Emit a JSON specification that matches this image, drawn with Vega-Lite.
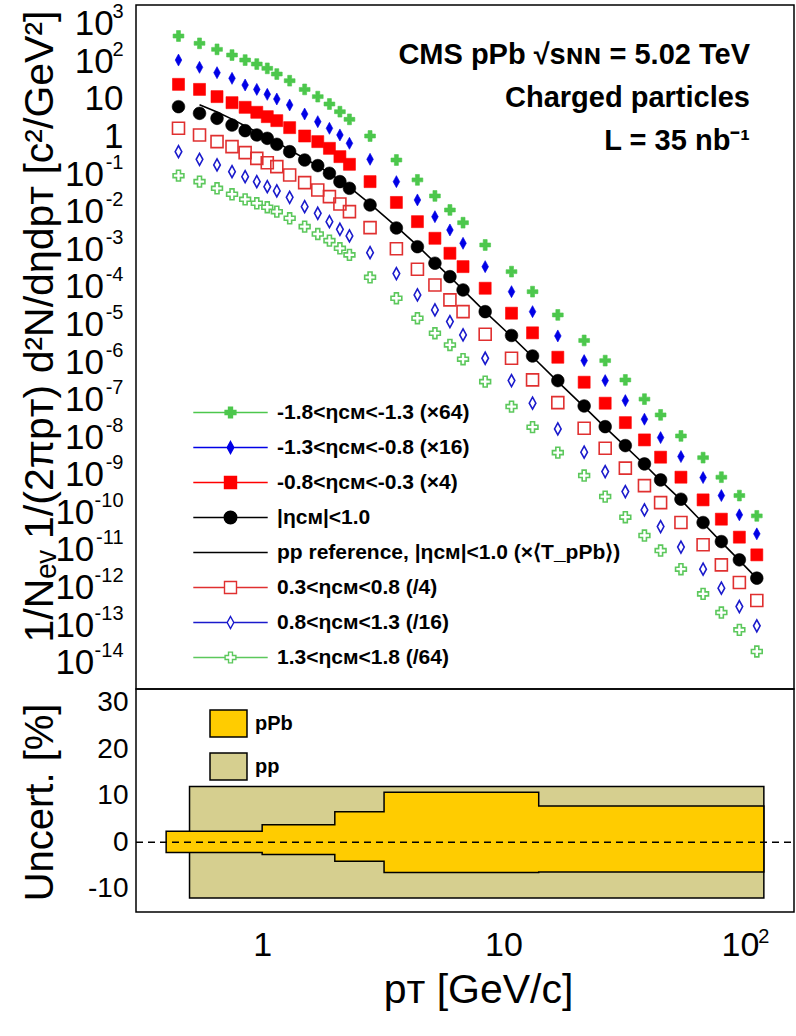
{
  "$schema": "https://vega.github.io/schema/vega-lite/v6.json",
  "padding": {"left": 18, "top": -12, "right": 0, "bottom": 0},
  "background": "white",
  "config": {
    "font": "Liberation Sans",
    "view": {"stroke": "black", "strokeWidth": 1.5},
    "axis": {"tickColor": "black", "tickWidth": 1.5, "domain": false, "grid": false, "labelColor": "black", "labelFont": "Liberation Sans", "titleFont": "Liberation Sans", "titleFontWeight": "normal", "titleColor": "black", "labelOverlap": false, "labelFlush": false, "labelBound": false, "tickSize": 0, "zindex": 1},
    "legend": {"symbolFillColor": "transparent", "symbolStrokeColor": "black", "symbolOpacity": 1, "padding": 0, "labelColor": "black", "labelFont": "Liberation Sans"}
  },
  "datasets": {
    "spec": [
      {"pt":0.45,"g1":471,"b1":108,"r1":24.4,"k":6.21,"r2":1.65,"b2":0.395,"g2":0.0908,"pp":null},
      {"pt":0.55,"g1":301,"b1":69.2,"r1":17.9,"k":4.13,"r2":1.10,"b2":0.247,"g2":0.0630,"pp":7.0},
      {"pt":0.65,"g1":208,"b1":49.9,"r1":11.5,"k":3.04,"r2":0.730,"b2":0.175,"g2":0.0418,"pp":4.5},
      {"pt":0.75,"g1":147,"b1":35.2,"r1":7.94,"k":2.02,"r2":0.537,"b2":0.116,"g2":0.0290,"pp":2.9},
      {"pt":0.85,"g1":108,"b1":23.4,"r1":5.97,"k":1.43,"r2":0.372,"b2":0.0855,"g2":0.0213,"pp":1.9},
      {"pt":0.95,"g1":84.7,"b1":17.9,"r1":4.40,"k":1.10,"r2":0.262,"b2":0.0630,"g2":0.0167,"pp":1.32},
      {"pt":1.05,"g1":65.0,"b1":13.2,"r1":3.37,"k":0.893,"r2":0.201,"b2":0.0463,"g2":0.0131,"pp":0.98},
      {"pt":1.15,"g1":45.9,"b1":9.93,"r1":2.64,"k":0.619,"r2":0.158,"b2":0.0356,"g2":0.0100,"pp":0.70},
      {"pt":1.3,"g1":30.5,"b1":6.89,"r1":1.72,"k":0.395,"r2":0.0946,"b2":0.0241,"g2":0.00667,"pp":0.44},
      {"pt":1.5,"g1":17.9,"b1":3.96,"r1":1.03,"k":0.237,"r2":0.0592,"b2":0.0136,"g2":0.00400,"pp":0.26},
      {"pt":1.7,"g1":11.5,"b1":2.48,"r1":0.730,"k":0.168,"r2":0.0378,"b2":0.00906,"g2":0.00255,"pp":0.165},
      {"pt":1.9,"g1":7.31,"b1":1.65,"r1":0.484,"k":0.105,"r2":0.0251,"b2":0.00543,"g2":0.00170,"pp":0.105},
      {"pt":2.1,"g1":4.57,"b1":1.10,"r1":0.291,"k":0.0630,"r2":0.0160,"b2":0.00340,"g2":0.00106,"pp":0.068},
      {"pt":2.3,"g1":2.86,"b1":0.658,"r1":0.182,"k":0.0418,"r2":0.0100,"b2":0.00226,"g2":0.00071,"pp":0.045},
      {"pt":2.8,"g1":1.03,"b1":0.247,"r1":0.0630,"k":0.0151,"r2":0.00376,"b2":0.000813,"g2":0.000179,"pp":0.0162},
      {"pt":3.6,"g1":0.237,"b1":0.0630,"r1":0.0176,"k":0.00369,"r2":0.00103,"b2":0.000225,"g2":0.0000497,"pp":0.0040},
      {"pt":4.4,"g1":0.0701,"b1":0.0205,"r1":0.00542,"k":0.00117,"r2":0.000294,"b2":0.0000610,"g2":0.0000146,"pp":0.00125},
      {"pt":5.2,"g1":0.0262,"b1":0.00736,"r1":0.00196,"k":0.000425,"r2":0.000112,"b2":0.0000243,"g2":0.00000583,"pp":0.00044},
      {"pt":6.0,"g1":0.0111,"b1":0.00326,"r1":0.000783,"k":0.000187,"r2":0.0000449,"b2":0.0000119,"g2":0.00000285,"pp":0.000185},
      {"pt":6.8,"g1":0.00509,"b1":0.00144,"r1":0.000345,"k":0.0000828,"r2":0.0000219,"b2":0.00000526,"g2":0.00000119,"pp":0.000083},
      {"pt":8.4,"g1":0.00130,"b1":0.000345,"r1":0.0000918,"k":0.0000219,"r2":0.00000548,"b2":0.00000126,"g2":3.01e-7,"pp":0.0000215},
      {"pt":10.8,"g1":2.54e-4,"b1":7.45e-5,"r1":1.99e-5,"k":5.09e-6,"r2":1.26e-6,"b2":3.20e-7,"g2":6.52e-8,"pp":4.8e-6},
      {"pt":13.2,"g1":7.45e-5,"b1":2.19e-5,"r1":5.98e-6,"k":1.45e-6,"r2":3.34e-7,"b2":8.02e-8,"g2":1.85e-8,"pp":1.38e-6},
      {"pt":16.8,"g1":1.79e-5,"b1":4.94e-6,"r1":1.34e-6,"k":3.20e-7,"r2":8.32e-8,"b2":1.66e-8,"g2":3.89e-9,"pp":3.0e-7},
      {"pt":21.6,"g1":3.75e-6,"b1":1.09e-6,"r1":2.90e-7,"k":6.79e-8,"r2":1.73e-8,"b2":3.99e-9,"g2":9.53e-10,"pp":6.4e-8},
      {"pt":26.4,"g1":1.09e-6,"b1":3.20e-7,"r1":8.02e-8,"k":1.91e-8,"r2":5.09e-9,"b2":1.22e-9,"g2":2.63e-10,"pp":1.82e-8},
      {"pt":32.0,"g1":3.34e-7,"b1":9.40e-8,"r1":2.44e-8,"k":5.98e-9,"r2":1.50e-9,"b2":3.57e-10,"g2":7.45e-11,"pp":5.7e-9},
      {"pt":38.4,"g1":1.03e-7,"b1":3.01e-8,"r1":8.47e-9,"k":1.95e-9,"r2":5.16e-10,"b2":1.16e-10,"g2":2.42e-11,"pp":1.88e-9},
      {"pt":44.8,"g1":3.92e-8,"b1":9.75e-9,"r1":2.94e-9,"k":7.31e-10,"r2":1.82e-10,"b2":4.19e-11,"g2":9.64e-12,"pp":7.0e-10},
      {"pt":54.4,"g1":1.08e-8,"b1":3.05e-9,"r1":8.63e-10,"k":2.24e-10,"r2":5.36e-11,"b2":1.19e-11,"g2":3.08e-12,"pp":2.15e-10},
      {"pt":67.2,"g1":2.86e-9,"b1":8.43e-10,"r1":2.15e-10,"k":5.36e-11,"r2":1.37e-11,"b2":3.08e-12,"g2":6.79e-13,"pp":5.2e-11},
      {"pt":80.0,"g1":8.63e-10,"b1":2.80e-10,"r1":6.59e-11,"k":1.67e-11,"r2":4.02e-12,"b2":9.65e-13,"g2":2.16e-13,"pp":1.62e-11},
      {"pt":95.0,"g1":2.80e-10,"b1":8.59e-11,"r1":2.19e-11,"k":5.46e-12,"r2":1.36e-12,"b2":3.13e-13,"g2":7.50e-14,"pp":5.3e-12},
      {"pt":112.2,"g1":8.07e-11,"b1":2.68e-11,"r1":7.41e-12,"k":1.78e-12,"r2":4.51e-13,"b2":9.57e-14,"g2":1.99e-14,"pp":1.75e-12}
    ],
    "unc": [
      {"type":"pPb","x":0.4,"lo":-2.2,"hi":2.4},
      {"type":"pPb","x":1,"lo":-2.6,"hi":3.8},
      {"type":"pPb","x":2,"lo":-4.1,"hi":6.6},
      {"type":"pPb","x":3.2,"lo":-6.5,"hi":10.8},
      {"type":"pPb","x":14,"lo":-6.4,"hi":7.8},
      {"type":"pPb","x":120,"lo":-6.4,"hi":7.8}
    ],
    "ppbox": [
      {"type":"pp","x0":0.5,"x1":120,"lo":-12,"hi":12}
    ]
  },
  "spacing": 0,
  "bounds": "flush",
  "resolve": {
    "scale": {"fill": "independent", "stroke": "independent", "shape": "independent", "x": "independent", "y": "independent"},
    "legend": {"fill": "independent", "stroke": "independent", "shape": "independent"}
  },
  "vconcat": [
    {
      "width": 658,
      "height": 684,
      "title": {"text": ["CMS pPb √sɴɴ = 5.02 TeV", "Charged particles", "L = 35 nb⁻¹"], "orient": "top", "anchor": "end", "frame": "group", "align": "right", "dx": -44, "offset": -190, "fontSize": 29, "fontWeight": "bold", "font": "Liberation Sans", "lineHeight": 43, "baseline": "alphabetic", "color": "black"},
      "data": {"name": "spec"},
      "layer": [
        {
          "mark": {"type": "line", "color": "black", "strokeWidth": 1.6},
          "encoding": {
            "x": {"field": "pt", "type": "quantitative", "scale": {"type": "log", "domain": [0.3, 160], "nice": false},
              "axis": {"orient": "bottom", "values": [0.3,0.4,0.5,0.6,0.7,0.8,0.9,1,2,3,4,5,6,7,8,9,10,20,30,40,50,60,70,80,90,100], "labels": false, "title": null,
                "encode": {"ticks": {"y2": {"value": {"expr": "abs(log(datum.value)/LN10 - round(log(datum.value)/LN10)) < 0.001 ? -17 : -9"}}}}}},
            "y": {"field": "pp", "type": "quantitative", "scale": {"type": "log", "domain": [2e-15, 3150], "nice": false},
              "axis": {"orient": "left",
                "values": [2e-15,3e-15,4e-15,5e-15,6e-15,7e-15,8e-15,9e-15,1e-14,2e-14,3e-14,4e-14,5e-14,6e-14,7e-14,8e-14,9e-14,1e-13,2e-13,3e-13,4e-13,5e-13,6e-13,7e-13,8e-13,9e-13,1e-12,2e-12,3e-12,4e-12,5e-12,6e-12,7e-12,8e-12,9e-12,1e-11,2e-11,3e-11,4e-11,5e-11,6e-11,7e-11,8e-11,9e-11,1e-10,2e-10,3e-10,4e-10,5e-10,6e-10,7e-10,8e-10,9e-10,1e-9,2e-9,3e-9,4e-9,5e-9,6e-9,7e-9,8e-9,9e-9,1e-8,2e-8,3e-8,4e-8,5e-8,6e-8,7e-8,8e-8,9e-8,1e-7,2e-7,3e-7,4e-7,5e-7,6e-7,7e-7,8e-7,9e-7,1e-6,2e-6,3e-6,4e-6,5e-6,6e-6,7e-6,8e-6,9e-6,1e-5,2e-5,3e-5,4e-5,5e-5,6e-5,7e-5,8e-5,9e-5,1e-4,2e-4,3e-4,4e-4,5e-4,6e-4,7e-4,8e-4,9e-4,0.001,0.002,0.003,0.004,0.005,0.006,0.007,0.008,0.009,0.01,0.02,0.03,0.04,0.05,0.06,0.07,0.08,0.09,0.1,0.2,0.3,0.4,0.5,0.6,0.7,0.8,0.9,1,2,3,4,5,6,7,8,9,10,20,30,40,50,60,70,80,90,100,200,300,400,500,600,700,800,900,1000,2000,3000],
                "labelExpr": "abs(log(datum.value)/LN10 - round(log(datum.value)/LN10)) < 0.001 ? (round(log(datum.value)/LN10) == 0 ? '1' : round(log(datum.value)/LN10) == 1 ? '10' : round(log(datum.value)/LN10) >= 2 ? '10\u00a0\u200b' : round(log(datum.value)/LN10) >= -9 ? '10\u00a0\u00a0\u200b' : '10\u00a0\u00a0\u00a0\u200b') : ''",
                "labelFontSize": 35, "labelPadding": 13,
                "encode": {"ticks": {"x2": {"value": {"expr": "abs(log(datum.value)/LN10 - round(log(datum.value)/LN10)) < 0.001 ? 22 : 11"}}}},
                "title": "1/Nₑᵥ  1/(2πpᴛ)  d²N/dηdpᴛ  [c²/GeV²]", "titleFontSize": 41, "titleX": -84, "titleY": 5, "titleAngle": 270, "titleAlign": "right", "titleBaseline": "alphabetic"}}
          }
        },
        {
          "transform": [{"fold": ["g1","b1","r1","k","r2","b2","g2"], "as": ["series","val"]}, {"filter": {"field": "series", "oneOf": ["g1","b1","r1","k"]}}],
          "mark": {"type": "point", "size": 144, "strokeWidth": 0.6, "opacity": 1},
          "encoding": {
            "x": {"field": "pt", "type": "quantitative", "scale": {"type": "log", "domain": [0.3, 160], "nice": false},
              "axis": {"orient": "top", "values": [0.3,0.4,0.5,0.6,0.7,0.8,0.9,1,2,3,4,5,6,7,8,9,10,20,30,40,50,60,70,80,90,100], "labels": false, "title": null,
                "encode": {"ticks": {"y2": {"value": {"expr": "abs(log(datum.value)/LN10 - round(log(datum.value)/LN10)) < 0.001 ? 17 : 9"}}}}}},
            "y": {"field": "val", "type": "quantitative", "scale": {"type": "log", "domain": [2e-15, 3150], "nice": false},
              "axis": {"orient": "right",
                "values": [2e-15,3e-15,4e-15,5e-15,6e-15,7e-15,8e-15,9e-15,1e-14,2e-14,3e-14,4e-14,5e-14,6e-14,7e-14,8e-14,9e-14,1e-13,2e-13,3e-13,4e-13,5e-13,6e-13,7e-13,8e-13,9e-13,1e-12,2e-12,3e-12,4e-12,5e-12,6e-12,7e-12,8e-12,9e-12,1e-11,2e-11,3e-11,4e-11,5e-11,6e-11,7e-11,8e-11,9e-11,1e-10,2e-10,3e-10,4e-10,5e-10,6e-10,7e-10,8e-10,9e-10,1e-9,2e-9,3e-9,4e-9,5e-9,6e-9,7e-9,8e-9,9e-9,1e-8,2e-8,3e-8,4e-8,5e-8,6e-8,7e-8,8e-8,9e-8,1e-7,2e-7,3e-7,4e-7,5e-7,6e-7,7e-7,8e-7,9e-7,1e-6,2e-6,3e-6,4e-6,5e-6,6e-6,7e-6,8e-6,9e-6,1e-5,2e-5,3e-5,4e-5,5e-5,6e-5,7e-5,8e-5,9e-5,1e-4,2e-4,3e-4,4e-4,5e-4,6e-4,7e-4,8e-4,9e-4,0.001,0.002,0.003,0.004,0.005,0.006,0.007,0.008,0.009,0.01,0.02,0.03,0.04,0.05,0.06,0.07,0.08,0.09,0.1,0.2,0.3,0.4,0.5,0.6,0.7,0.8,0.9,1,2,3,4,5,6,7,8,9,10,20,30,40,50,60,70,80,90,100,200,300,400,500,600,700,800,900,1000,2000,3000],
                "labels": false, "title": null,
                "encode": {"ticks": {"x2": {"value": {"expr": "abs(log(datum.value)/LN10 - round(log(datum.value)/LN10)) < 0.001 ? -22 : -11"}}}}}},
            "shape": {"field": "series", "type": "nominal", "legend": null,
              "scale": {"domain": ["g1","b1","r1","k","pp","r2","b2","g2"], "range": ["M-0.33,-0.9H0.33V-0.33H0.9V0.33H0.33V0.9H-0.33V0.33H-0.9V-0.33H-0.33Z", "M0,-1L0.55,0L0,1L-0.55,0Z", "M-1,-1H1V1H-1Z", "M1.05,0A1.05,1.05,0,1,1,-1.05,0A1.05,1.05,0,1,1,1.05,0Z", "M-6,0H6", "M-1,-1H1V1H-1Z", "M0,-1L0.55,0L0,1L-0.55,0Z", "M-0.33,-0.9H0.33V-0.33H0.9V0.33H0.33V0.9H-0.33V0.33H-0.9V-0.33H-0.33Z"]}},
            "fill": {"field": "series", "type": "nominal", "legend": null,
              "scale": {"domain": ["g1","b1","r1","k","pp","r2","b2","g2"], "range": ["#4CC74C","#0000E6","#FF0000","#000000","transparent","transparent","transparent","transparent"]}},
            "stroke": {"field": "series", "type": "nominal", "legend": null,
              "scale": {"domain": ["g1","b1","r1","k","pp","r2","b2","g2"], "range": ["#4CC74C","#0000E6","#FF0000","#000000","#000000","#E03030","#1A1ACC","#5CC85C"]}}
          }
        },
        {
          "transform": [{"fold": ["g1","b1","r1","k","r2","b2","g2"], "as": ["series","val"]}, {"filter": {"field": "series", "oneOf": ["r2","b2","g2"]}}],
          "mark": {"type": "point", "size": 144, "strokeWidth": 1.6, "opacity": 1},
          "encoding": {
            "x": {"field": "pt", "type": "quantitative", "scale": {"type": "log", "domain": [0.3, 160], "nice": false}, "axis": null},
            "y": {"field": "val", "type": "quantitative", "scale": {"type": "log", "domain": [2e-15, 3150], "nice": false},
              "axis": {"orient": "left", "values": [1e-14,1e-13,1e-12,1e-11,1e-10,1e-9,1e-8,1e-7,1e-6,1e-5,1e-4,0.001,0.01,0.1,1,10,100,1000], "ticks": false, "title": null,
                "labelExpr": "(round(log(datum.value)/LN10) == 0 || round(log(datum.value)/LN10) == 1) ? '' : '' + round(log(datum.value)/LN10)",
                "labelFontSize": 20, "labelPadding": 13, "labelOffset": -12}},
            "shape": {"field": "series", "type": "nominal", "legend": null,
              "scale": {"domain": ["g1","b1","r1","k","pp","r2","b2","g2"], "range": ["M-0.33,-0.9H0.33V-0.33H0.9V0.33H0.33V0.9H-0.33V0.33H-0.9V-0.33H-0.33Z", "M0,-1L0.55,0L0,1L-0.55,0Z", "M-1,-1H1V1H-1Z", "M1.05,0A1.05,1.05,0,1,1,-1.05,0A1.05,1.05,0,1,1,1.05,0Z", "M-6,0H6", "M-1,-1H1V1H-1Z", "M0,-1L0.55,0L0,1L-0.55,0Z", "M-0.33,-0.9H0.33V-0.33H0.9V0.33H0.33V0.9H-0.33V0.33H-0.9V-0.33H-0.33Z"]}},
            "fill": {"field": "series", "type": "nominal", "legend": null,
              "scale": {"domain": ["g1","b1","r1","k","pp","r2","b2","g2"], "range": ["#4CC74C","#0000E6","#FF0000","#000000","transparent","transparent","transparent","transparent"]}},
            "stroke": {"field": "series", "type": "nominal", "legend": null,
              "scale": {"domain": ["g1","b1","r1","k","pp","r2","b2","g2"], "range": ["#4CC74C","#0000E6","#FF0000","#000000","#000000","#E03030","#1A1ACC","#5CC85C"]}}
          }
        },
        {
          "transform": [{"fold": ["g1","b1","r1","k","r2","b2","g2"], "as": ["series","val"]}],
          "mark": {"type": "point", "size": 144, "strokeWidth": 1.4, "opacity": 0},
          "encoding": {
            "x": {"field": "pt", "type": "quantitative", "scale": {"type": "log", "domain": [0.3, 160], "nice": false}, "axis": null},
            "y": {"field": "val", "type": "quantitative", "scale": {"type": "log", "domain": [2e-15, 3150], "nice": false}, "axis": null},
            "shape": {"field": "series", "type": "nominal",
              "scale": {"domain": ["g1","b1","r1","k","pp","r2","b2","g2"], "range": ["M-6.2,0H-0.9M0.9,0H6.2M-0.33,-0.9H0.33V-0.33H0.9V0.33H0.33V0.9H-0.33V0.33H-0.9V-0.33H-0.33Z", "M-6.2,0H-0.55M0.55,0H6.2M0,-1L0.55,0L0,1L-0.55,0Z", "M-6.2,0H-1M1,0H6.2M-1,-1H1V1H-1Z", "M-6.2,0H-1.05M1.05,0H6.2M1.05,0A1.05,1.05,0,1,1,-1.05,0A1.05,1.05,0,1,1,1.05,0Z", "M-6.2,0H6.2", "M-6.2,0H-1M1,0H6.2M-1,-1H1V1H-1Z", "M-6.2,0H-0.55M0.55,0H6.2M0,-1L0.55,0L0,1L-0.55,0Z", "M-6.2,0H-0.9M0.9,0H6.2M-0.33,-0.9H0.33V-0.33H0.9V0.33H0.33V0.9H-0.33V0.33H-0.9V-0.33H-0.33Z"]},
              "legend": {"orient": "none", "legendX": 84, "legendY": 397, "title": null, "symbolSize": 144, "symbolStrokeWidth": 1.4, "symbolOpacity": 1,
                "labelFontSize": 21, "labelFontWeight": "bold", "labelLimit": 600, "labelOffset": 36, "rowPadding": 13,
                "labelExpr": "datum.value == 'g1' ? '-1.8<ηᴄᴍ<-1.3 (×64)' : datum.value == 'b1' ? '-1.3<ηᴄᴍ<-0.8 (×16)' : datum.value == 'r1' ? '-0.8<ηᴄᴍ<-0.3 (×4)' : datum.value == 'k' ? '|ηᴄᴍ|<1.0' : datum.value == 'pp' ? 'pp reference, |ηᴄᴍ|<1.0 (×⟨T_pPb⟩)' : datum.value == 'r2' ? '0.3<ηᴄᴍ<0.8 (/4)' : datum.value == 'b2' ? '0.8<ηᴄᴍ<1.3 (/16)' : '1.3<ηᴄᴍ<1.8 (/64)'"}},
            "fill": {"field": "series", "type": "nominal",
              "scale": {"domain": ["g1","b1","r1","k","pp","r2","b2","g2"], "range": ["#4CC74C","#0000E6","#FF0000","#000000","transparent","transparent","transparent","transparent"]}},
            "stroke": {"field": "series", "type": "nominal",
              "scale": {"domain": ["g1","b1","r1","k","pp","r2","b2","g2"], "range": ["#4CC74C","#0000E6","#FF0000","#000000","#000000","#E03030","#1A1ACC","#5CC85C"]}}
          }
        }
      ],
      "resolve": {"axis": {"x": "independent", "y": "independent"}, "scale": {"shape": "independent", "fill": "independent", "stroke": "independent"}}
    },
    {
      "width": 658,
      "height": 223,
      "layer": [
        {
          "data": {"name": "ppbox"},
          "mark": {"type": "rect", "stroke": "black", "strokeWidth": 1.5},
          "encoding": {
            "x": {"field": "x0", "type": "quantitative", "scale": {"type": "log", "domain": [0.3, 160], "nice": false},
              "axis": {"orient": "bottom", "values": [0.3,0.4,0.5,0.6,0.7,0.8,0.9,1,2,3,4,5,6,7,8,9,10,20,30,40,50,60,70,80,90,100],
                "labelExpr": "abs(log(datum.value)/LN10 - round(log(datum.value)/LN10)) < 0.001 ? (round(log(datum.value)/LN10) == 0 ? '1' : round(log(datum.value)/LN10) == 1 ? '10' : '10\u00a0\u200b') : ''",
                "labelFontSize": 34, "labelPadding": 16,
                "encode": {"ticks": {"y2": {"value": {"expr": "abs(log(datum.value)/LN10 - round(log(datum.value)/LN10)) < 0.001 ? -10 : -5"}}}},
                "title": "pᴛ [GeV/c]", "titleFontSize": 41, "titleX": 342, "titleY": 90, "titleBaseline": "alphabetic", "titleAlign": "center"}},
            "x2": {"field": "x1"},
            "y": {"field": "lo", "type": "quantitative", "scale": {"domain": [-15, 33], "nice": false, "zero": false},
              "axis": {"orient": "left", "values": [-15,-10,-5,0,5,10,15,20,25,30],
                "labelExpr": "datum.value % 10 == 0 ? '' + datum.value : ''",
                "labelFontSize": 28, "labelPadding": 8,
                "encode": {"ticks": {"x2": {"value": {"expr": "datum.value % 10 == 0 ? 14 : 7"}}}},
                "title": "Uncert. [%]", "titleFontSize": 40, "titleX": -84, "titleY": 14, "titleAngle": 270, "titleAlign": "right", "titleBaseline": "alphabetic"}},
            "y2": {"field": "hi"},
            "fill": {"field": "type", "type": "nominal", "scale": {"domain": ["pPb","pp"], "range": ["#FFCC00","#D6CF8F"]},
              "legend": {"orient": "none", "legendX": 78, "legendY": 20, "title": null, "symbolType": "M-1.37,-1H1.37V1H-1.37Z", "symbolSize": 729, "symbolStrokeWidth": 1.5, "labelFontSize": 20, "labelFontWeight": "bold", "labelOffset": 12, "rowPadding": 10}}
          }
        },
        {
          "data": {"name": "unc"},
          "mark": {"type": "area", "interpolate": "step-after", "stroke": "black", "strokeWidth": 1.5, "opacity": 1},
          "encoding": {
            "x": {"field": "x", "type": "quantitative", "scale": {"type": "log", "domain": [0.3, 160], "nice": false},
              "axis": {"orient": "top", "values": [0.3,0.4,0.5,0.6,0.7,0.8,0.9,1,2,3,4,5,6,7,8,9,10,20,30,40,50,60,70,80,90,100], "labels": false, "title": null,
                "encode": {"ticks": {"y2": {"value": {"expr": "abs(log(datum.value)/LN10 - round(log(datum.value)/LN10)) < 0.001 ? 10 : 5"}}}}}},
            "y": {"field": "hi", "type": "quantitative", "scale": {"domain": [-15, 33], "nice": false, "zero": false},
              "axis": {"orient": "right", "values": [-15,-10,-5,0,5,10,15,20,25,30], "labels": false, "title": null,
                "encode": {"ticks": {"x2": {"value": {"expr": "datum.value % 10 == 0 ? -14 : -7"}}}}}},
            "y2": {"field": "lo"},
            "fill": {"field": "type", "type": "nominal", "scale": {"domain": ["pPb","pp"], "range": ["#FFCC00","#D6CF8F"]}}
          }
        },
        {
          "data": {"values": [{}]},
          "mark": {"type": "rule", "color": "black", "strokeWidth": 1.5, "strokeDash": [7, 5]},
          "encoding": {
            "x": {"datum": 0.3, "type": "quantitative", "scale": {"type": "log", "domain": [0.3, 160], "nice": false},
              "axis": {"orient": "bottom", "values": [100], "ticks": false, "title": null, "labelExpr": "'2'", "labelFontSize": 20, "labelAlign": "left", "labelOffset": 13, "labelPadding": 14}},
            "x2": {"datum": 160},
            "y": {"datum": 0, "type": "quantitative", "scale": {"domain": [-15, 33], "nice": false, "zero": false}, "axis": null}
          }
        }
      ],
      "resolve": {"axis": {"x": "independent", "y": "independent"}}
    }
  ]
}
